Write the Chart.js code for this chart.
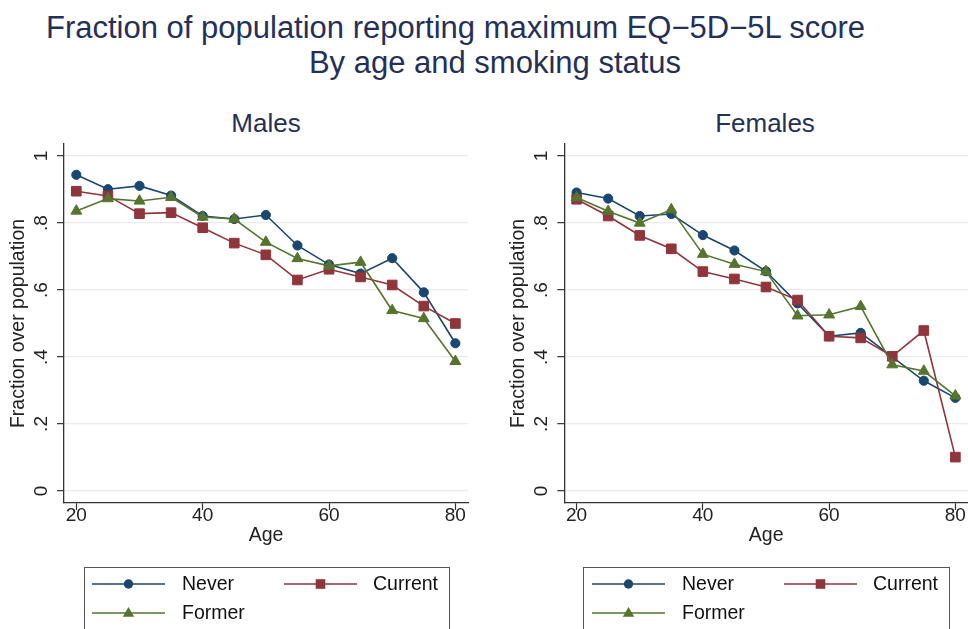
<!DOCTYPE html>
<html>
<head>
<meta charset="utf-8">
<script src="https://cdn.jsdelivr.net/npm/chart.js@4.4.1/dist/chart.umd.min.js"></script>
<style>
  html, body { margin: 0; padding: 0; background: #fff; }
  body { width: 968px; height: 629px; position: relative; overflow: hidden;
         font-family: "Liberation Sans", Arial, Helvetica, sans-serif; }
  .t { position: absolute; white-space: nowrap; line-height: 1; color: #253059; text-align: center; }
  canvas { position: absolute; top: 0; }
  .legbox { position: absolute; top: 567px; height: 90px; border: 1px solid #555; box-sizing: border-box; }
  .li { position: absolute; font-size: 19.5px; line-height: 1; color: #111; white-space: nowrap; }
  svg.sym { position: absolute; overflow: visible; }
</style>
</head>
<body>
<div class="t" style="left:0;width:911px;top:12px;font-size:31px;">Fraction of population reporting maximum EQ−5D−5L score</div>
<div class="t" style="left:0;width:990px;top:47px;font-size:31px;">By age and smoking status</div>
<div class="t" style="left:166px;width:200px;top:110px;font-size:26px;">Males</div>
<div class="t" style="left:665px;width:200px;top:110px;font-size:26px;">Females</div>

<canvas id="cm" width="484" height="629" style="left:0"></canvas>
<canvas id="cf" width="484" height="629" style="left:484px"></canvas>

<div id="legends"></div>

<script>
// ---------------- data ----------------
const ages = [20, 25, 30, 35, 40, 45, 50, 55, 60, 65, 70, 75, 80];
const seriesNames = ['Never', 'Current', 'Former'];

const maleNever   = [0.944, 0.901, 0.911, 0.882, 0.821, 0.812, 0.824, 0.733, 0.676, 0.649, 0.695, 0.593, 0.441];
const maleCurrent = [0.895, 0.881, 0.828, 0.831, 0.786, 0.740, 0.705, 0.630, 0.662, 0.639, 0.615, 0.552, 0.500];
const maleFormer  = [0.836, 0.873, 0.866, 0.877, 0.818, 0.812, 0.743, 0.694, 0.672, 0.683, 0.539, 0.515, 0.387];

const femaleNever   = [0.891, 0.873, 0.821, 0.827, 0.764, 0.718, 0.656, 0.560, 0.462, 0.472, 0.400, 0.329, 0.278];
const femaleCurrent = [0.871, 0.821, 0.763, 0.723, 0.655, 0.633, 0.609, 0.570, 0.462, 0.457, 0.402, 0.479, 0.101];
const femaleFormer  = [0.876, 0.835, 0.800, 0.840, 0.707, 0.677, 0.655, 0.523, 0.526, 0.551, 0.377, 0.358, 0.284];

const xTicks = [20, 40, 60, 80];
const yTicks = [0, 0.2, 0.4, 0.6, 0.8, 1];
const yTickLabels = ['0', '.2', '.4', '.6', '.8', '1'];

// ---------------- styles ----------------
const FONT = '"Liberation Sans", Arial, Helvetica, sans-serif';
Chart.defaults.font.family = FONT;
const colors = { Never: '#1a476f', Current: '#90353b', Former: '#55752f' };
const styles = {
  Never:   { pointStyle: 'circle',   pointRadius: 4.6 },
  Current: { pointStyle: 'rect',     pointRadius: 6.8 },
  Former:  { pointStyle: 'triangle', pointRadius: 6.3 }
};
const drawOrder = { Never: 2, Current: 1, Former: 0 };

function mkDataset(name, vals) {
  const c = colors[name];
  return {
    label: name,
    data: ages.map((a, i) => ({ x: a, y: vals[i] })),
    borderColor: c, backgroundColor: c,
    pointBackgroundColor: c, pointBorderColor: c, pointBorderWidth: 1,
    pointStyle: styles[name].pointStyle, pointRadius: styles[name].pointRadius,
    borderWidth: 1.6, tension: 0, order: drawOrder[name], clip: false
  };
}

const yLabelPlugin = {
  id: 'yRotLabels',
  afterDraw(chart) {
    const s = chart.scales.y, ctx = chart.ctx;
    ctx.save();
    ctx.font = '19px ' + FONT;
    ctx.fillStyle = '#222';
    ctx.textAlign = 'center';
    ctx.textBaseline = 'middle';
    yTicks.forEach((v, i) => {
      const y = s.getPixelForValue(v);
      ctx.save();
      ctx.translate(chart.chartArea.left - 22.3, y);
      ctx.rotate(-Math.PI / 2);
      ctx.fillText(yTickLabels[i], 0, 0);
      ctx.restore();
    });
    ctx.restore();
  }
};

function mkChart(id, nev, cur, form, padLeft, padRight) {
  return new Chart(document.getElementById(id), {
    type: 'line',
    data: { datasets: [mkDataset('Never', nev), mkDataset('Current', cur), mkDataset('Former', form)] },
    options: {
      responsive: false, animation: false, devicePixelRatio: 1,
      layout: { autoPadding: false, padding: { left: padLeft, right: padRight, top: 144, bottom: 76 } },
      plugins: { legend: { display: false }, title: { display: false }, tooltip: { enabled: false } },
      scales: {
        x: {
          type: 'linear', min: 18.05, max: 82.0,
          afterBuildTicks: (s) => { s.ticks = xTicks.map(v => ({ value: v })); },
          afterFit: (s) => { s.height = 50; s.paddingLeft = 0; s.paddingRight = 0; },
          ticks: { font: { size: 19, lineHeight: 1 }, color: '#222', padding: -3.5, maxRotation: 0, autoSkip: false,
                   callback: (v) => String(v) },
          grid: { drawOnChartArea: false, drawTicks: true, tickLength: 7, tickColor: '#333', tickWidth: 1.2 },
          border: { display: true, color: '#333', width: 1.3 },
          title: { display: true, text: 'Age', font: { size: 19.5 }, color: '#222', padding: { top: 0, bottom: 5.8 } }
        },
        y: {
          type: 'linear', min: -0.036, max: 1.036,
          afterBuildTicks: (s) => { s.ticks = yTicks.map(v => ({ value: v })); },
          afterFit: (s) => { s.width = 64; s.paddingTop = 0; s.paddingBottom = 0; },
          ticks: { display: false },
          grid: { color: '#ebebeb', lineWidth: 1.3, drawTicks: true, tickLength: 7, tickColor: '#333', tickWidth: 1.2 },
          border: { display: true, color: '#333', width: 1.3 },
          title: { display: true, text: 'Fraction over population', font: { size: 19.5 }, color: '#222', padding: { top: 7, bottom: 0 } }
        }
      }
    },
    plugins: [yLabelPlugin]
  });
}

mkChart('cm', maleNever, maleCurrent, maleFormer, 0, 16);
mkChart('cf', femaleNever, femaleCurrent, femaleFormer, 16.3, 0);

// ---------------- legends (HTML + SVG symbols) ----------------
function symbolSVG(name, left, cy) {
  const c = colors[name];
  let marker;
  if (name === 'Never') marker = `<circle cx="36.5" cy="0" r="4.7" fill="${c}"/>`;
  else if (name === 'Current') marker = `<rect x="31.7" y="-4.8" width="9.6" height="9.6" fill="${c}"/>`;
  else marker = `<polygon points="36.5,-6 42.2,3.8 30.8,3.8" fill="${c}"/>`;
  return `<svg class="sym" width="73" height="1" style="left:${left}px;top:${cy}px">
    <line x1="0" y1="0" x2="73" y2="0" stroke="${c}" stroke-width="1.6"/>${marker}</svg>`;
}
function legendHTML(off, boxLeft, boxWidth) {
  const rows = [
    { name: 'Never', symX: 92, txtX: 182, cy: 584 },
    { name: 'Current', symX: 284, txtX: 373, cy: 584 },
    { name: 'Former', symX: 92, txtX: 182, cy: 613 }
  ];
  let h = `<div class="legbox" style="left:${boxLeft}px;width:${boxWidth}px"></div>`;
  rows.forEach(r => {
    h += symbolSVG(r.name, r.symX + off, r.cy);
    h += `<div class="li" style="left:${r.txtX + off}px;top:${r.cy - 10.5}px">${r.name}</div>`;
  });
  return h;
}
document.getElementById('legends').innerHTML =
  legendHTML(0, 84, 366) + legendHTML(500, 583, 367);
</script>
</body>
</html>
